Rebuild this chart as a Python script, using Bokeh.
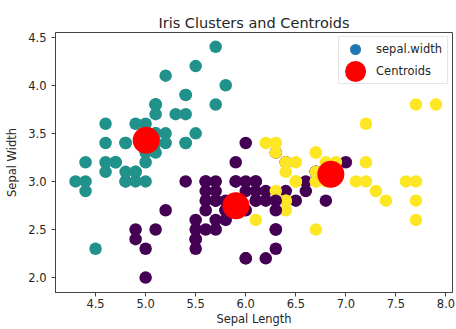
from bokeh.plotting import figure
from bokeh.models import FixedTicker, NumeralTickFormatter, Range1d, ColumnDataSource
from bokeh.embed import file_html
from bokeh.resources import INLINE

# Iris sepal measurements (setosa, versicolor, virginica rows)
sepal_length = [
    5.1, 4.9, 4.7, 4.6, 5.0, 5.4, 4.6, 5.0, 4.4, 4.9, 5.4, 4.8, 4.8, 4.3, 5.8, 5.7, 5.4, 5.1, 5.7, 5.1,
    5.4, 5.1, 4.6, 5.1, 4.8, 5.0, 5.0, 5.2, 5.2, 4.7, 4.8, 5.4, 5.2, 5.5, 4.9, 5.0, 5.5, 4.9, 4.4, 5.1,
    5.0, 4.5, 4.4, 5.0, 5.1, 4.8, 5.1, 4.6, 5.3, 5.0,
    7.0, 6.4, 6.9, 5.5, 6.5, 5.7, 6.3, 4.9, 6.6, 5.2, 5.0, 5.9, 6.0, 6.1, 5.6, 6.7, 5.6, 5.8, 6.2, 5.6,
    5.9, 6.1, 6.3, 6.1, 6.4, 6.6, 6.8, 6.7, 6.0, 5.7, 5.5, 5.5, 5.8, 6.0, 5.4, 6.0, 6.7, 6.3, 5.6, 5.5,
    5.5, 6.1, 5.8, 5.0, 5.6, 5.7, 5.7, 6.2, 5.1, 5.7,
    6.3, 5.8, 7.1, 6.3, 6.5, 7.6, 4.9, 7.3, 6.7, 7.2, 6.5, 6.4, 6.8, 5.7, 5.8, 6.4, 6.5, 7.7, 7.7, 6.0,
    6.9, 5.6, 7.7, 6.3, 6.7, 7.2, 6.2, 6.1, 6.4, 7.2, 7.4, 7.9, 6.4, 6.3, 6.1, 7.7, 6.3, 6.4, 6.0, 6.9,
    6.7, 6.9, 5.8, 6.8, 6.7, 6.7, 6.3, 6.5, 6.2, 5.9,
]
sepal_width = [
    3.5, 3.0, 3.2, 3.1, 3.6, 3.9, 3.4, 3.4, 2.9, 3.1, 3.7, 3.4, 3.0, 3.0, 4.0, 4.4, 3.9, 3.5, 3.8, 3.8,
    3.4, 3.7, 3.6, 3.3, 3.4, 3.0, 3.4, 3.5, 3.4, 3.2, 3.1, 3.4, 4.1, 4.2, 3.1, 3.2, 3.5, 3.6, 3.0, 3.4,
    3.5, 2.3, 3.2, 3.5, 3.8, 3.0, 3.8, 3.2, 3.7, 3.3,
    3.2, 3.2, 3.1, 2.3, 2.8, 2.8, 3.3, 2.4, 2.9, 2.7, 2.0, 3.0, 2.2, 2.9, 2.9, 3.1, 3.0, 2.7, 2.2, 2.5,
    3.2, 2.8, 2.5, 2.8, 2.9, 3.0, 2.8, 3.0, 2.9, 2.6, 2.4, 2.4, 2.7, 2.7, 3.0, 3.4, 3.1, 2.3, 3.0, 2.5,
    2.6, 3.0, 2.6, 2.3, 2.7, 3.0, 2.9, 2.9, 2.5, 2.8,
    3.3, 2.7, 3.0, 2.9, 3.0, 3.0, 2.5, 2.9, 2.5, 3.6, 3.2, 2.7, 3.0, 2.5, 2.8, 3.2, 3.0, 3.8, 2.6, 2.2,
    3.2, 2.8, 2.8, 2.7, 3.3, 3.2, 2.8, 3.0, 2.8, 3.0, 2.8, 3.8, 2.8, 2.8, 2.6, 3.0, 3.4, 3.1, 3.0, 3.1,
    3.1, 3.1, 2.7, 3.2, 3.3, 3.0, 2.5, 3.0, 3.4, 3.0,
]
cluster = [
    1, 1, 1, 1, 1, 1, 1, 1, 1, 1, 1, 1, 1, 1, 1, 1, 1, 1, 1, 1,
    1, 1, 1, 1, 1, 1, 1, 1, 1, 1, 1, 1, 1, 1, 1, 1, 1, 1, 1, 1,
    1, 1, 1, 1, 1, 1, 1, 1, 1, 1,
    0, 0, 2, 0, 0, 0, 0, 0, 0, 0, 0, 0, 0, 0, 0, 0, 0, 0, 0, 0,
    0, 0, 0, 0, 0, 0, 0, 2, 0, 0, 0, 0, 0, 0, 0, 0, 0, 0, 0, 0,
    0, 0, 0, 0, 0, 0, 0, 0, 0, 0,
    2, 0, 2, 2, 2, 2, 0, 2, 2, 2, 2, 2, 2, 0, 0, 2, 2, 2, 2, 0,
    2, 0, 2, 0, 2, 2, 0, 0, 2, 2, 2, 2, 2, 0, 2, 2, 2, 2, 0, 2,
    2, 2, 0, 2, 2, 2, 0, 2, 2, 0,
]
centroid_x = [5.006, 5.902, 6.850]
centroid_y = [3.428, 2.748, 3.074]
cluster_colors = ["#440154", "#21918c", "#fde725"]
x_ticks = [4.5, 5.0, 5.5, 6.0, 6.5, 7.0, 7.5, 8.0]
y_ticks = [2.0, 2.5, 3.0, 3.5, 4.0, 4.5]

FONT = "DejaVu Sans"
TXT = "#262626"
AX = "#444444"

src = ColumnDataSource(dict(
    x=sepal_length, y=sepal_width,
    color=[cluster_colors[c] for c in cluster],
))
csrc = ColumnDataSource(dict(x=centroid_x, y=centroid_y))

p = figure(width=456, height=329, output_backend="svg", toolbar_location=None,
           x_range=Range1d(4.10, 8.065), y_range=Range1d(1.845, 4.549),
           title="Iris Clusters and Centroids",
           x_axis_label="Sepal Length", y_axis_label="Sepal Width",
           min_border_left=55, min_border_right=4, min_border_top=32, min_border_bottom=37)

p.background_fill_color = "white"
p.border_fill_color = "white"
p.outline_line_color = AX
p.outline_line_width = 1
p.grid.visible = False

p.title.text_font = FONT
p.title.text_font_size = "14.5px"
p.title.text_font_style = "normal"
p.title.text_color = TXT
p.title.align = "center"
p.title.standoff = 3

for ax in (p.xaxis, p.yaxis):
    ax.major_label_text_font = FONT
    ax.major_label_text_font_size = "11.5px"
    ax.major_label_text_color = TXT
    ax.axis_label_text_font = FONT
    ax.axis_label_text_font_size = "11.5px"
    ax.axis_label_text_font_style = "normal"
    ax.axis_label_text_color = TXT
    ax.major_tick_out = 4
    ax.major_tick_in = 0
    ax.minor_tick_out = 0
    ax.minor_tick_in = 0
    ax.major_tick_line_color = AX
    ax.axis_line_color = AX
    ax.formatter = NumeralTickFormatter(format="0.0")

p.xaxis.ticker = FixedTicker(ticks=x_ticks)
p.yaxis.ticker = FixedTicker(ticks=y_ticks)
p.xaxis.major_label_standoff = 2
p.xaxis.axis_label_standoff = 1
p.yaxis.major_label_standoff = 5
p.yaxis.axis_label_standoff = 6

# legend swatch proxies (drawn at the centroids, fully hidden beneath the centroid discs)
p.scatter("x", "y", source=csrc, size=4, line_width=2.2, color="#1f77b4",
          legend_label="sepal.width")
p.scatter("x", "y", source=csrc, size=4, line_width=12.2, color="red",
          legend_label="Centroids")
p.scatter("x", "y", source=csrc, size=4, line_width=8.8, color="red",
          legend_label="Centroids")

# data points coloured by cluster
p.scatter("x", "y", source=src, size=12.5, fill_color="color", line_color=None)
# centroids
p.scatter("x", "y", source=csrc, size=27, fill_color="red", line_color=None)

lg = p.legend[0]
lg.location = "top_right"
lg.margin = 4
lg.padding = dict(left=5, right=5, top=1, bottom=1)
lg.spacing = 0
lg.glyph_width = 22
lg.glyph_height = 22
lg.label_height = 19
lg.label_standoff = 10
lg.label_text_font = FONT
lg.label_text_font_size = "11.5px"
lg.label_text_color = TXT
lg.border_line_color = "#cccccc"
lg.border_line_width = 1
lg.background_fill_color = "white"
lg.background_fill_alpha = 0.8

open("out.html", "w").write(file_html(p, INLINE))
